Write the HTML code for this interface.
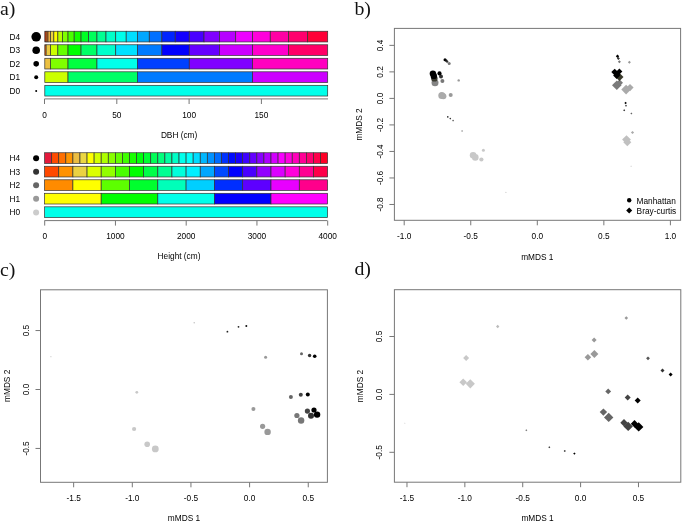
<!DOCTYPE html>
<html><head><meta charset="utf-8"><title>Figure</title>
<style>
html,body{margin:0;padding:0;background:#fff;}
body{width:685px;height:522px;overflow:hidden;}
svg{display:block;}
.pl{font-family:'Liberation Serif','Times New Roman',serif;font-size:19.8px;fill:#111;}
.t8{font-family:'Liberation Sans',Arial,sans-serif;font-size:8.3px;fill:#000;}
.ax{stroke:#777;stroke-width:1;fill:none;}
</style></head>
<body>
<svg width="685" height="522" viewBox="0 0 685 522">
<rect x="0" y="0" width="685" height="522" fill="#fff"/>
<text x="0.1" y="14.6" class="pl">a)</text>
<text x="354.4" y="14.6" class="pl">b)</text>
<text x="0.0" y="275.6" class="pl">c)</text>
<text x="354.4" y="275.4" class="pl">d)</text>
<rect x="44.80" y="31.25" width="1.34" height="10.7" fill="#ff3700" stroke="#333" stroke-width="0.7"/>
<rect x="46.14" y="31.25" width="1.86" height="10.7" fill="#ff6d00" stroke="#333" stroke-width="0.7"/>
<rect x="47.99" y="31.25" width="2.57" height="10.7" fill="#ebae42" stroke="#333" stroke-width="0.7"/>
<rect x="50.56" y="31.25" width="3.29" height="10.7" fill="#ebd242" stroke="#333" stroke-width="0.7"/>
<rect x="53.85" y="31.25" width="4.01" height="10.7" fill="#ffff00" stroke="#333" stroke-width="0.7"/>
<rect x="57.86" y="31.25" width="4.72" height="10.7" fill="#b6ff00" stroke="#333" stroke-width="0.7"/>
<rect x="62.58" y="31.25" width="5.44" height="10.7" fill="#80ff00" stroke="#333" stroke-width="0.7"/>
<rect x="68.02" y="31.25" width="6.16" height="10.7" fill="#49ff00" stroke="#333" stroke-width="0.7"/>
<rect x="74.18" y="31.25" width="6.88" height="10.7" fill="#12ff00" stroke="#333" stroke-width="0.7"/>
<rect x="81.06" y="31.25" width="7.59" height="10.7" fill="#00ff24" stroke="#333" stroke-width="0.7"/>
<rect x="88.65" y="31.25" width="8.31" height="10.7" fill="#00ff5b" stroke="#333" stroke-width="0.7"/>
<rect x="96.96" y="31.25" width="9.03" height="10.7" fill="#00ff92" stroke="#333" stroke-width="0.7"/>
<rect x="105.99" y="31.25" width="9.74" height="10.7" fill="#00ffc8" stroke="#333" stroke-width="0.7"/>
<rect x="115.73" y="31.25" width="10.46" height="10.7" fill="#00ffea" stroke="#333" stroke-width="0.7"/>
<rect x="126.20" y="31.25" width="11.18" height="10.7" fill="#00deff" stroke="#333" stroke-width="0.7"/>
<rect x="137.38" y="31.25" width="11.90" height="10.7" fill="#00a7ff" stroke="#333" stroke-width="0.7"/>
<rect x="149.27" y="31.25" width="12.61" height="10.7" fill="#0070ff" stroke="#333" stroke-width="0.7"/>
<rect x="161.89" y="31.25" width="13.33" height="10.7" fill="#0024ff" stroke="#333" stroke-width="0.7"/>
<rect x="175.22" y="31.25" width="14.05" height="10.7" fill="#1200ff" stroke="#333" stroke-width="0.7"/>
<rect x="189.26" y="31.25" width="14.77" height="10.7" fill="#4900ff" stroke="#333" stroke-width="0.7"/>
<rect x="204.03" y="31.25" width="15.48" height="10.7" fill="#8000ff" stroke="#333" stroke-width="0.7"/>
<rect x="219.51" y="31.25" width="16.20" height="10.7" fill="#b600ff" stroke="#333" stroke-width="0.7"/>
<rect x="235.71" y="31.25" width="16.92" height="10.7" fill="#ed00ff" stroke="#333" stroke-width="0.7"/>
<rect x="252.63" y="31.25" width="17.63" height="10.7" fill="#ff00db" stroke="#333" stroke-width="0.7"/>
<rect x="270.26" y="31.25" width="18.35" height="10.7" fill="#ff00a4" stroke="#333" stroke-width="0.7"/>
<rect x="288.62" y="31.25" width="19.07" height="10.7" fill="#ff006d" stroke="#333" stroke-width="0.7"/>
<rect x="307.68" y="31.25" width="20.02" height="10.7" fill="#ff0037" stroke="#333" stroke-width="0.7"/>
<rect x="44.80" y="44.77" width="1.34" height="10.7" fill="#ff6600" stroke="#333" stroke-width="0.7"/>
<rect x="46.14" y="44.77" width="4.43" height="10.7" fill="#ebc942" stroke="#333" stroke-width="0.7"/>
<rect x="50.56" y="44.77" width="7.30" height="10.7" fill="#ccff00" stroke="#333" stroke-width="0.7"/>
<rect x="57.86" y="44.77" width="10.17" height="10.7" fill="#66ff00" stroke="#333" stroke-width="0.7"/>
<rect x="68.02" y="44.77" width="13.03" height="10.7" fill="#00ff00" stroke="#333" stroke-width="0.7"/>
<rect x="81.06" y="44.77" width="15.90" height="10.7" fill="#00ff66" stroke="#333" stroke-width="0.7"/>
<rect x="96.96" y="44.77" width="18.77" height="10.7" fill="#00ffcc" stroke="#333" stroke-width="0.7"/>
<rect x="115.73" y="44.77" width="21.64" height="10.7" fill="#00e1ff" stroke="#333" stroke-width="0.7"/>
<rect x="137.38" y="44.77" width="24.51" height="10.7" fill="#007bff" stroke="#333" stroke-width="0.7"/>
<rect x="161.89" y="44.77" width="27.38" height="10.7" fill="#0000ff" stroke="#333" stroke-width="0.7"/>
<rect x="189.26" y="44.77" width="30.25" height="10.7" fill="#6600ff" stroke="#333" stroke-width="0.7"/>
<rect x="219.51" y="44.77" width="33.12" height="10.7" fill="#cc00ff" stroke="#333" stroke-width="0.7"/>
<rect x="252.63" y="44.77" width="35.99" height="10.7" fill="#ff00cc" stroke="#333" stroke-width="0.7"/>
<rect x="288.62" y="44.77" width="39.08" height="10.7" fill="#ff0066" stroke="#333" stroke-width="0.7"/>
<rect x="44.80" y="58.29" width="5.76" height="10.7" fill="#ebc042" stroke="#333" stroke-width="0.7"/>
<rect x="50.56" y="58.29" width="17.46" height="10.7" fill="#80ff00" stroke="#333" stroke-width="0.7"/>
<rect x="68.02" y="58.29" width="28.94" height="10.7" fill="#00ff40" stroke="#333" stroke-width="0.7"/>
<rect x="96.96" y="58.29" width="40.41" height="10.7" fill="#00ffea" stroke="#333" stroke-width="0.7"/>
<rect x="137.38" y="58.29" width="51.89" height="10.7" fill="#0040ff" stroke="#333" stroke-width="0.7"/>
<rect x="189.26" y="58.29" width="63.36" height="10.7" fill="#8000ff" stroke="#333" stroke-width="0.7"/>
<rect x="252.63" y="58.29" width="75.07" height="10.7" fill="#ff00bf" stroke="#333" stroke-width="0.7"/>
<rect x="44.80" y="71.81" width="23.22" height="10.7" fill="#ccff00" stroke="#333" stroke-width="0.7"/>
<rect x="68.02" y="71.81" width="69.35" height="10.7" fill="#00ff66" stroke="#333" stroke-width="0.7"/>
<rect x="137.38" y="71.81" width="115.25" height="10.7" fill="#007bff" stroke="#333" stroke-width="0.7"/>
<rect x="252.63" y="71.81" width="75.07" height="10.7" fill="#cc00ff" stroke="#333" stroke-width="0.7"/>
<rect x="44.80" y="85.33" width="282.90" height="10.7" fill="#00ffea" stroke="#333" stroke-width="0.7"/>
<circle cx="36.2" cy="36.80" r="4.8" fill="#000"/>
<text x="9.6" y="39.90" class="t8">D4</text>
<circle cx="36.2" cy="50.32" r="3.8" fill="#000"/>
<text x="9.6" y="53.42" class="t8">D3</text>
<circle cx="36.2" cy="63.84" r="2.8" fill="#000"/>
<text x="9.6" y="66.94" class="t8">D2</text>
<circle cx="36.2" cy="77.36" r="2.0" fill="#000"/>
<text x="9.6" y="80.46" class="t8">D1</text>
<circle cx="36.2" cy="90.88" r="1.0" fill="#000"/>
<text x="9.6" y="93.98" class="t8">D0</text>
<line x1="44.5" y1="98.9" x2="328" y2="98.9" class="ax"/>
<line x1="44.50" y1="98.9" x2="44.50" y2="104" class="ax"/>
<text x="44.50" y="117.6" class="t8" text-anchor="middle">0</text>
<line x1="116.80" y1="98.9" x2="116.80" y2="104" class="ax"/>
<text x="116.80" y="117.6" class="t8" text-anchor="middle">50</text>
<line x1="189.10" y1="98.9" x2="189.10" y2="104" class="ax"/>
<text x="189.10" y="117.6" class="t8" text-anchor="middle">100</text>
<line x1="261.40" y1="98.9" x2="261.40" y2="104" class="ax"/>
<text x="261.40" y="117.6" class="t8" text-anchor="middle">150</text>
<text x="179.1" y="137.6" class="t8" text-anchor="middle">DBH (cm)</text>
<rect x="44.60" y="152.75" width="7.08" height="10.7" fill="#e41a3c" stroke="#333" stroke-width="0.7"/>
<rect x="51.68" y="152.75" width="7.07" height="10.7" fill="#ff4b00" stroke="#333" stroke-width="0.7"/>
<rect x="58.75" y="152.75" width="7.08" height="10.7" fill="#ff7000" stroke="#333" stroke-width="0.7"/>
<rect x="65.83" y="152.75" width="7.08" height="10.7" fill="#ff9500" stroke="#333" stroke-width="0.7"/>
<rect x="72.90" y="152.75" width="7.07" height="10.7" fill="#ebbd42" stroke="#333" stroke-width="0.7"/>
<rect x="79.97" y="152.75" width="7.08" height="10.7" fill="#ebd642" stroke="#333" stroke-width="0.7"/>
<rect x="87.05" y="152.75" width="7.07" height="10.7" fill="#ffff00" stroke="#333" stroke-width="0.7"/>
<rect x="94.12" y="152.75" width="7.08" height="10.7" fill="#d3ff00" stroke="#333" stroke-width="0.7"/>
<rect x="101.20" y="152.75" width="7.08" height="10.7" fill="#aeff00" stroke="#333" stroke-width="0.7"/>
<rect x="108.28" y="152.75" width="7.07" height="10.7" fill="#89ff00" stroke="#333" stroke-width="0.7"/>
<rect x="115.35" y="152.75" width="7.08" height="10.7" fill="#64ff00" stroke="#333" stroke-width="0.7"/>
<rect x="122.43" y="152.75" width="7.07" height="10.7" fill="#3eff00" stroke="#333" stroke-width="0.7"/>
<rect x="129.50" y="152.75" width="7.07" height="10.7" fill="#19ff00" stroke="#333" stroke-width="0.7"/>
<rect x="136.57" y="152.75" width="7.08" height="10.7" fill="#00ff0c" stroke="#333" stroke-width="0.7"/>
<rect x="143.65" y="152.75" width="7.07" height="10.7" fill="#00ff32" stroke="#333" stroke-width="0.7"/>
<rect x="150.72" y="152.75" width="7.08" height="10.7" fill="#00ff57" stroke="#333" stroke-width="0.7"/>
<rect x="157.80" y="152.75" width="7.07" height="10.7" fill="#00ff7c" stroke="#333" stroke-width="0.7"/>
<rect x="164.88" y="152.75" width="7.07" height="10.7" fill="#00ffa2" stroke="#333" stroke-width="0.7"/>
<rect x="171.95" y="152.75" width="7.08" height="10.7" fill="#00ffc7" stroke="#333" stroke-width="0.7"/>
<rect x="179.03" y="152.75" width="7.07" height="10.7" fill="#00ffec" stroke="#333" stroke-width="0.7"/>
<rect x="186.10" y="152.75" width="7.07" height="10.7" fill="#00fffc" stroke="#333" stroke-width="0.7"/>
<rect x="193.17" y="152.75" width="7.08" height="10.7" fill="#00dcff" stroke="#333" stroke-width="0.7"/>
<rect x="200.25" y="152.75" width="7.07" height="10.7" fill="#00b7ff" stroke="#333" stroke-width="0.7"/>
<rect x="207.32" y="152.75" width="7.08" height="10.7" fill="#0092ff" stroke="#333" stroke-width="0.7"/>
<rect x="214.40" y="152.75" width="7.07" height="10.7" fill="#006cff" stroke="#333" stroke-width="0.7"/>
<rect x="221.47" y="152.75" width="7.07" height="10.7" fill="#0032ff" stroke="#333" stroke-width="0.7"/>
<rect x="228.55" y="152.75" width="7.08" height="10.7" fill="#000cff" stroke="#333" stroke-width="0.7"/>
<rect x="235.62" y="152.75" width="7.07" height="10.7" fill="#1900ff" stroke="#333" stroke-width="0.7"/>
<rect x="242.70" y="152.75" width="7.08" height="10.7" fill="#3e00ff" stroke="#333" stroke-width="0.7"/>
<rect x="249.78" y="152.75" width="7.08" height="10.7" fill="#6400ff" stroke="#333" stroke-width="0.7"/>
<rect x="256.85" y="152.75" width="7.07" height="10.7" fill="#8900ff" stroke="#333" stroke-width="0.7"/>
<rect x="263.93" y="152.75" width="7.07" height="10.7" fill="#ae00ff" stroke="#333" stroke-width="0.7"/>
<rect x="271.00" y="152.75" width="7.07" height="10.7" fill="#d300ff" stroke="#333" stroke-width="0.7"/>
<rect x="278.07" y="152.75" width="7.08" height="10.7" fill="#f900ff" stroke="#333" stroke-width="0.7"/>
<rect x="285.15" y="152.75" width="7.07" height="10.7" fill="#ff00e0" stroke="#333" stroke-width="0.7"/>
<rect x="292.23" y="152.75" width="7.07" height="10.7" fill="#ff00bb" stroke="#333" stroke-width="0.7"/>
<rect x="299.30" y="152.75" width="7.07" height="10.7" fill="#ff0095" stroke="#333" stroke-width="0.7"/>
<rect x="306.38" y="152.75" width="7.08" height="10.7" fill="#ff0070" stroke="#333" stroke-width="0.7"/>
<rect x="313.45" y="152.75" width="7.07" height="10.7" fill="#ff004b" stroke="#333" stroke-width="0.7"/>
<rect x="320.53" y="152.75" width="7.07" height="10.7" fill="#ff0025" stroke="#333" stroke-width="0.7"/>
<rect x="44.60" y="166.27" width="14.15" height="10.7" fill="#ff4900" stroke="#333" stroke-width="0.7"/>
<rect x="58.75" y="166.27" width="14.15" height="10.7" fill="#ff9200" stroke="#333" stroke-width="0.7"/>
<rect x="72.90" y="166.27" width="14.15" height="10.7" fill="#ebd242" stroke="#333" stroke-width="0.7"/>
<rect x="87.05" y="166.27" width="14.15" height="10.7" fill="#dbff00" stroke="#333" stroke-width="0.7"/>
<rect x="101.20" y="166.27" width="14.15" height="10.7" fill="#92ff00" stroke="#333" stroke-width="0.7"/>
<rect x="115.35" y="166.27" width="14.15" height="10.7" fill="#49ff00" stroke="#333" stroke-width="0.7"/>
<rect x="129.50" y="166.27" width="14.15" height="10.7" fill="#00ff00" stroke="#333" stroke-width="0.7"/>
<rect x="143.65" y="166.27" width="14.15" height="10.7" fill="#00ff49" stroke="#333" stroke-width="0.7"/>
<rect x="157.80" y="166.27" width="14.15" height="10.7" fill="#00ff92" stroke="#333" stroke-width="0.7"/>
<rect x="171.95" y="166.27" width="14.15" height="10.7" fill="#00ffdb" stroke="#333" stroke-width="0.7"/>
<rect x="186.10" y="166.27" width="14.15" height="10.7" fill="#00f0ff" stroke="#333" stroke-width="0.7"/>
<rect x="200.25" y="166.27" width="14.15" height="10.7" fill="#00a7ff" stroke="#333" stroke-width="0.7"/>
<rect x="214.40" y="166.27" width="14.15" height="10.7" fill="#0049ff" stroke="#333" stroke-width="0.7"/>
<rect x="228.55" y="166.27" width="14.15" height="10.7" fill="#0000ff" stroke="#333" stroke-width="0.7"/>
<rect x="242.70" y="166.27" width="14.15" height="10.7" fill="#4900ff" stroke="#333" stroke-width="0.7"/>
<rect x="256.85" y="166.27" width="14.15" height="10.7" fill="#9200ff" stroke="#333" stroke-width="0.7"/>
<rect x="271.00" y="166.27" width="14.15" height="10.7" fill="#db00ff" stroke="#333" stroke-width="0.7"/>
<rect x="285.15" y="166.27" width="14.15" height="10.7" fill="#ff00db" stroke="#333" stroke-width="0.7"/>
<rect x="299.30" y="166.27" width="14.15" height="10.7" fill="#ff0092" stroke="#333" stroke-width="0.7"/>
<rect x="313.45" y="166.27" width="14.15" height="10.7" fill="#ff0049" stroke="#333" stroke-width="0.7"/>
<rect x="44.60" y="179.79" width="28.30" height="10.7" fill="#ff8b00" stroke="#333" stroke-width="0.7"/>
<rect x="72.90" y="179.79" width="28.30" height="10.7" fill="#ffff00" stroke="#333" stroke-width="0.7"/>
<rect x="101.20" y="179.79" width="28.30" height="10.7" fill="#5dff00" stroke="#333" stroke-width="0.7"/>
<rect x="129.50" y="179.79" width="28.30" height="10.7" fill="#00ff2e" stroke="#333" stroke-width="0.7"/>
<rect x="157.80" y="179.79" width="28.30" height="10.7" fill="#00ffb9" stroke="#333" stroke-width="0.7"/>
<rect x="186.10" y="179.79" width="28.30" height="10.7" fill="#00cfff" stroke="#333" stroke-width="0.7"/>
<rect x="214.40" y="179.79" width="28.30" height="10.7" fill="#002eff" stroke="#333" stroke-width="0.7"/>
<rect x="242.70" y="179.79" width="28.30" height="10.7" fill="#5d00ff" stroke="#333" stroke-width="0.7"/>
<rect x="271.00" y="179.79" width="28.30" height="10.7" fill="#e800ff" stroke="#333" stroke-width="0.7"/>
<rect x="299.30" y="179.79" width="28.30" height="10.7" fill="#ff008b" stroke="#333" stroke-width="0.7"/>
<rect x="44.60" y="193.31" width="56.60" height="10.7" fill="#ffff00" stroke="#333" stroke-width="0.7"/>
<rect x="101.20" y="193.31" width="56.60" height="10.7" fill="#00ff00" stroke="#333" stroke-width="0.7"/>
<rect x="157.80" y="193.31" width="56.60" height="10.7" fill="#00ffea" stroke="#333" stroke-width="0.7"/>
<rect x="214.40" y="193.31" width="56.60" height="10.7" fill="#0000ff" stroke="#333" stroke-width="0.7"/>
<rect x="271.00" y="193.31" width="56.60" height="10.7" fill="#ff00ff" stroke="#333" stroke-width="0.7"/>
<rect x="44.60" y="206.83" width="283.00" height="10.7" fill="#00ffea" stroke="#333" stroke-width="0.7"/>
<circle cx="36.1" cy="158.30" r="3" fill="#000"/>
<text x="9.6" y="161.40" class="t8">H4</text>
<circle cx="36.1" cy="171.82" r="3" fill="#333"/>
<text x="9.6" y="174.92" class="t8">H3</text>
<circle cx="36.1" cy="185.34" r="3" fill="#666"/>
<text x="9.6" y="188.44" class="t8">H2</text>
<circle cx="36.1" cy="198.86" r="3" fill="#999"/>
<text x="9.6" y="201.96" class="t8">H1</text>
<circle cx="36.1" cy="212.38" r="3" fill="#ccc"/>
<text x="9.6" y="215.48" class="t8">H0</text>
<line x1="44.5" y1="220.6" x2="327.3" y2="220.6" class="ax"/>
<line x1="44.70" y1="220.6" x2="44.70" y2="225.6" class="ax"/>
<text x="44.70" y="239.1" class="t8" text-anchor="middle">0</text>
<line x1="115.45" y1="220.6" x2="115.45" y2="225.6" class="ax"/>
<text x="115.45" y="239.1" class="t8" text-anchor="middle">1000</text>
<line x1="186.20" y1="220.6" x2="186.20" y2="225.6" class="ax"/>
<text x="186.20" y="239.1" class="t8" text-anchor="middle">2000</text>
<line x1="256.95" y1="220.6" x2="256.95" y2="225.6" class="ax"/>
<text x="256.95" y="239.1" class="t8" text-anchor="middle">3000</text>
<line x1="327.70" y1="220.6" x2="327.70" y2="225.6" class="ax"/>
<text x="327.70" y="239.1" class="t8" text-anchor="middle">4000</text>
<text x="179" y="258.9" class="t8" text-anchor="middle">Height (cm)</text>
<rect x="394.4" y="28.4" width="286.20000000000005" height="191.9" fill="none" class="ax"/>
<line x1="389.4" y1="45.36" x2="394.4" y2="45.36" class="ax"/>
<text transform="translate(382.6,45.36) rotate(-90)" class="t8" text-anchor="middle">0.4</text>
<line x1="389.4" y1="71.88" x2="394.4" y2="71.88" class="ax"/>
<text transform="translate(382.6,71.88) rotate(-90)" class="t8" text-anchor="middle">0.2</text>
<line x1="389.4" y1="98.40" x2="394.4" y2="98.40" class="ax"/>
<text transform="translate(382.6,98.40) rotate(-90)" class="t8" text-anchor="middle">0.0</text>
<line x1="389.4" y1="124.92" x2="394.4" y2="124.92" class="ax"/>
<text transform="translate(382.6,124.92) rotate(-90)" class="t8" text-anchor="middle">-0.2</text>
<line x1="389.4" y1="151.44" x2="394.4" y2="151.44" class="ax"/>
<text transform="translate(382.6,151.44) rotate(-90)" class="t8" text-anchor="middle">-0.4</text>
<line x1="389.4" y1="177.96" x2="394.4" y2="177.96" class="ax"/>
<text transform="translate(382.6,177.96) rotate(-90)" class="t8" text-anchor="middle">-0.6</text>
<line x1="389.4" y1="204.48" x2="394.4" y2="204.48" class="ax"/>
<text transform="translate(382.6,204.48) rotate(-90)" class="t8" text-anchor="middle">-0.8</text>
<line x1="404.20" y1="220.3" x2="404.20" y2="225.3" class="ax"/>
<text x="404.20" y="239.0" class="t8" text-anchor="middle">-1.0</text>
<line x1="470.75" y1="220.3" x2="470.75" y2="225.3" class="ax"/>
<text x="470.75" y="239.0" class="t8" text-anchor="middle">-0.5</text>
<line x1="537.30" y1="220.3" x2="537.30" y2="225.3" class="ax"/>
<text x="537.30" y="239.0" class="t8" text-anchor="middle">0.0</text>
<line x1="603.85" y1="220.3" x2="603.85" y2="225.3" class="ax"/>
<text x="603.85" y="239.0" class="t8" text-anchor="middle">0.5</text>
<line x1="670.40" y1="220.3" x2="670.40" y2="225.3" class="ax"/>
<text x="670.40" y="239.0" class="t8" text-anchor="middle">1.0</text>
<text x="537.3" y="259.5" class="t8" text-anchor="middle">mMDS 1</text>
<text transform="translate(362.4,124.4) rotate(-90)" class="t8" text-anchor="middle">mMDS 2</text>
<circle cx="629.2" cy="200.3" r="2.2" fill="#000"/>
<path d="M629.2 207.4L632.2 210.4L629.2 213.4L626.2 210.4Z" fill="#000"/>
<text x="636.6" y="203.7" class="t8">Manhattan</text>
<text x="636.6" y="213.8" class="t8">Bray-curtis</text>
<circle cx="445.0" cy="59.7" r="1.5" fill="#000"/>
<circle cx="446.3" cy="60.7" r="1.2" fill="#111"/>
<circle cx="447.1" cy="61.6" r="1.2" fill="#333"/>
<circle cx="449.2" cy="63.4" r="1.5" fill="#777"/>
<circle cx="435.0" cy="82.8" r="3.5" fill="#858585"/>
<circle cx="434.4" cy="78.4" r="3.2" fill="#3a3a30"/>
<circle cx="433.8" cy="75.9" r="3.2" fill="#000"/>
<circle cx="432.9" cy="73.6" r="3.2" fill="#000"/>
<circle cx="442.4" cy="81.0" r="2.0" fill="#777"/>
<circle cx="441.0" cy="76.5" r="2.0" fill="#333"/>
<circle cx="439.5" cy="73.4" r="2.1" fill="#000"/>
<circle cx="458.7" cy="80.4" r="1.2" fill="#999"/>
<circle cx="441.8" cy="95.4" r="3.5" fill="#aaa"/>
<circle cx="443.4" cy="96.3" r="3.0" fill="#aaa"/>
<circle cx="450.7" cy="94.9" r="2.0" fill="#999"/>
<circle cx="447.8" cy="116.9" r="0.8" fill="#222"/>
<circle cx="450.3" cy="118.6" r="0.8" fill="#333"/>
<circle cx="453.1" cy="120.6" r="0.8" fill="#555"/>
<circle cx="462.1" cy="131.0" r="0.8" fill="#888"/>
<circle cx="473.1" cy="155.2" r="3.3" fill="#c8c8c8"/>
<circle cx="475.3" cy="157.4" r="3.3" fill="#c8c8c8"/>
<circle cx="481.4" cy="159.5" r="2.1" fill="#c8c8c8"/>
<circle cx="483.4" cy="150.3" r="1.5" fill="#c8c8c8"/>
<circle cx="505.9" cy="192.4" r="0.6" fill="#ccc"/>
<path d="M617.5 54.5L619.2 56.2L617.5 57.900000000000006L615.8 56.2Z" fill="#000"/>
<path d="M618.4 57.1L619.9 58.6L618.4 60.1L616.9 58.6Z" fill="#333"/>
<path d="M619.4 60.2L620.9 61.7L619.4 63.2L617.9 61.7Z" fill="#777"/>
<path d="M629.4 60.8L630.9 62.3L629.4 63.8L627.9 62.3Z" fill="#999"/>
<path d="M626.1 84.8L630.9 89.6L626.1 94.39999999999999L621.3000000000001 89.6Z" fill="#aaa"/>
<path d="M630.0 84.0L633.6 87.6L630.0 91.19999999999999L626.4 87.6Z" fill="#aaa"/>
<path d="M616.8 80.5L621.5999999999999 85.3L616.8 90.1L612.0 85.3Z" fill="#7a7a7a"/>
<path d="M619.6 79.39999999999999L623.0 82.8L619.6 86.2L616.2 82.8Z" fill="#7a7a7a"/>
<path d="M619.5 73.0L623.5 77.0L619.5 81.0L615.5 77.0Z" fill="#38382a"/>
<path d="M616.6 71.9L620.1 75.4L616.6 78.9L613.1 75.4Z" fill="#000"/>
<path d="M614.7 68.69999999999999L618.1 72.1L614.7 75.5L611.3000000000001 72.1Z" fill="#000"/>
<path d="M619.4 68.6L622.4 71.6L619.4 74.6L616.4 71.6Z" fill="#000"/>
<path d="M617.2 71.2L620.2 74.2L617.2 77.2L614.2 74.2Z" fill="#000"/>
<path d="M625.6 101.8L626.8000000000001 103.0L625.6 104.2L624.4 103.0Z" fill="#000"/>
<path d="M626.0 104.7L627.0 105.7L626.0 106.7L625.0 105.7Z" fill="#333"/>
<path d="M624.2 109.3L625.2 110.3L624.2 111.3L623.2 110.3Z" fill="#222"/>
<path d="M631.4 112.4L632.4 113.4L631.4 114.4L630.4 113.4Z" fill="#666"/>
<path d="M632.5 130.9L634.1 132.5L632.5 134.1L630.9 132.5Z" fill="#aaa"/>
<path d="M626.5 135.2L630.9 139.6L626.5 144.0L622.1 139.6Z" fill="#c0c0c0"/>
<path d="M627.3 138.3L631.3 142.3L627.3 146.3L623.3 142.3Z" fill="#c0c0c0"/>
<path d="M631.1 165.60000000000002L631.8000000000001 166.3L631.1 167.0L630.4 166.3Z" fill="#ccc"/>
<rect x="40.5" y="289.8" width="286.9" height="192.5" fill="none" class="ax"/>
<line x1="35.5" y1="330.55" x2="40.5" y2="330.55" class="ax"/>
<text transform="translate(28.6,330.55) rotate(-90)" class="t8" text-anchor="middle">0.5</text>
<line x1="35.5" y1="389.50" x2="40.5" y2="389.50" class="ax"/>
<text transform="translate(28.6,389.50) rotate(-90)" class="t8" text-anchor="middle">0.0</text>
<line x1="35.5" y1="448.45" x2="40.5" y2="448.45" class="ax"/>
<text transform="translate(28.6,448.45) rotate(-90)" class="t8" text-anchor="middle">-0.5</text>
<line x1="73.65" y1="482.3" x2="73.65" y2="487.3" class="ax"/>
<text x="73.65" y="500.8" class="t8" text-anchor="middle">-1.5</text>
<line x1="132.30" y1="482.3" x2="132.30" y2="487.3" class="ax"/>
<text x="132.30" y="500.8" class="t8" text-anchor="middle">-1.0</text>
<line x1="190.95" y1="482.3" x2="190.95" y2="487.3" class="ax"/>
<text x="190.95" y="500.8" class="t8" text-anchor="middle">-0.5</text>
<line x1="249.60" y1="482.3" x2="249.60" y2="487.3" class="ax"/>
<text x="249.60" y="500.8" class="t8" text-anchor="middle">0.0</text>
<line x1="308.25" y1="482.3" x2="308.25" y2="487.3" class="ax"/>
<text x="308.25" y="500.8" class="t8" text-anchor="middle">0.5</text>
<text x="184" y="520.9" class="t8" text-anchor="middle">mMDS 1</text>
<text transform="translate(9.6,385.8) rotate(-90)" class="t8" text-anchor="middle">mMDS 2</text>
<circle cx="50.9" cy="356.7" r="0.6" fill="#ccc"/>
<circle cx="194.2" cy="322.7" r="0.7" fill="#bbb"/>
<circle cx="227.4" cy="331.7" r="0.9" fill="#222"/>
<circle cx="238.5" cy="326.8" r="0.9" fill="#222"/>
<circle cx="246.3" cy="325.9" r="1.0" fill="#111"/>
<circle cx="265.6" cy="357.3" r="1.5" fill="#999"/>
<circle cx="301.5" cy="353.8" r="1.5" fill="#666"/>
<circle cx="309.6" cy="355.5" r="1.7" fill="#333"/>
<circle cx="314.7" cy="356.2" r="1.8" fill="#000"/>
<circle cx="136.8" cy="392.3" r="1.4" fill="#c8c8c8"/>
<circle cx="134.1" cy="429.0" r="2.1" fill="#c8c8c8"/>
<circle cx="147.2" cy="444.3" r="2.8" fill="#c8c8c8"/>
<circle cx="155.3" cy="448.9" r="3.4" fill="#c8c8c8"/>
<circle cx="253.4" cy="408.9" r="2.0" fill="#999"/>
<circle cx="262.6" cy="426.3" r="2.6" fill="#999"/>
<circle cx="267.6" cy="431.9" r="3.2" fill="#999"/>
<circle cx="290.9" cy="397.1" r="2.0" fill="#666"/>
<circle cx="300.8" cy="394.7" r="2.0" fill="#444"/>
<circle cx="307.8" cy="394.5" r="2.0" fill="#000"/>
<circle cx="296.9" cy="415.5" r="2.6" fill="#777"/>
<circle cx="301.1" cy="420.5" r="3.2" fill="#777"/>
<circle cx="307.4" cy="411.1" r="2.6" fill="#444"/>
<circle cx="311.0" cy="415.7" r="3.0" fill="#333"/>
<circle cx="314.0" cy="410.0" r="2.6" fill="#000"/>
<circle cx="317.1" cy="414.6" r="3.2" fill="#000"/>
<rect x="394.4" y="289.7" width="286.4" height="192.5" fill="none" class="ax"/>
<line x1="389.4" y1="336.50" x2="394.4" y2="336.50" class="ax"/>
<text transform="translate(382.4,336.50) rotate(-90)" class="t8" text-anchor="middle">0.5</text>
<line x1="389.4" y1="394.40" x2="394.4" y2="394.40" class="ax"/>
<text transform="translate(382.4,394.40) rotate(-90)" class="t8" text-anchor="middle">0.0</text>
<line x1="389.4" y1="452.30" x2="394.4" y2="452.30" class="ax"/>
<text transform="translate(382.4,452.30) rotate(-90)" class="t8" text-anchor="middle">-0.5</text>
<line x1="406.98" y1="482.2" x2="406.98" y2="487.2" class="ax"/>
<text x="406.98" y="500.8" class="t8" text-anchor="middle">-1.5</text>
<line x1="464.85" y1="482.2" x2="464.85" y2="487.2" class="ax"/>
<text x="464.85" y="500.8" class="t8" text-anchor="middle">-1.0</text>
<line x1="522.73" y1="482.2" x2="522.73" y2="487.2" class="ax"/>
<text x="522.73" y="500.8" class="t8" text-anchor="middle">-0.5</text>
<line x1="580.60" y1="482.2" x2="580.60" y2="487.2" class="ax"/>
<text x="580.60" y="500.8" class="t8" text-anchor="middle">0.0</text>
<line x1="638.48" y1="482.2" x2="638.48" y2="487.2" class="ax"/>
<text x="638.48" y="500.8" class="t8" text-anchor="middle">0.5</text>
<text x="537.6" y="520.9" class="t8" text-anchor="middle">mMDS 1</text>
<text transform="translate(362.7,386) rotate(-90)" class="t8" text-anchor="middle">mMDS 2</text>
<path d="M404.8 422.4L405.6 423.2L404.8 424.0L404.0 423.2Z" fill="#ddd"/>
<path d="M526.3 429.2L527.3 430.2L526.3 431.2L525.3 430.2Z" fill="#777"/>
<path d="M549.3 446.2L550.3 447.2L549.3 448.2L548.3 447.2Z" fill="#333"/>
<path d="M564.8 449.9L565.9 451.0L564.8 452.1L563.6999999999999 451.0Z" fill="#222"/>
<path d="M574.4 452.40000000000003L575.6 453.6L574.4 454.8L573.1999999999999 453.6Z" fill="#000"/>
<path d="M497.7 324.8L499.4 326.5L497.7 328.2L496.0 326.5Z" fill="#bbb"/>
<path d="M466.1 355.1L469.1 358.1L466.1 361.1L463.1 358.1Z" fill="#c8c8c8"/>
<path d="M463.2 378.5L467.0 382.3L463.2 386.1L459.4 382.3Z" fill="#c8c8c8"/>
<path d="M470.3 379.2L474.90000000000003 383.8L470.3 388.40000000000003L465.7 383.8Z" fill="#c8c8c8"/>
<path d="M626.3 316.2L628.0999999999999 318.0L626.3 319.8L624.5 318.0Z" fill="#999"/>
<path d="M594.1 337.5L596.6 340.0L594.1 342.5L591.6 340.0Z" fill="#999"/>
<path d="M587.9 353.9L591.1999999999999 357.2L587.9 360.5L584.6 357.2Z" fill="#999"/>
<path d="M594.4 350.0L598.4 354.0L594.4 358.0L590.4 354.0Z" fill="#999"/>
<path d="M648.0 356.40000000000003L649.9 358.3L648.0 360.2L646.1 358.3Z" fill="#555"/>
<path d="M662.5 368.6L664.5 370.6L662.5 372.6L660.5 370.6Z" fill="#333"/>
<path d="M670.6 372.6L672.6 374.6L670.6 376.6L668.6 374.6Z" fill="#000"/>
<path d="M608.2 388.5L611.1 391.4L608.2 394.29999999999995L605.3000000000001 391.4Z" fill="#666"/>
<path d="M627.7 394.4L630.7 397.4L627.7 400.4L624.7 397.4Z" fill="#444"/>
<path d="M637.7 397.5L640.7 400.5L637.7 403.5L634.7 400.5Z" fill="#000"/>
<path d="M603.4 408.40000000000003L607.1 412.1L603.4 415.8L599.6999999999999 412.1Z" fill="#666"/>
<path d="M608.7 412.7L613.4000000000001 417.4L608.7 422.09999999999997L604.0 417.4Z" fill="#666"/>
<path d="M624.0 419.0L627.7 422.7L624.0 426.4L620.3 422.7Z" fill="#444"/>
<path d="M628.2 421.7L632.9000000000001 426.4L628.2 431.09999999999997L623.5 426.4Z" fill="#444"/>
<path d="M634.5 420.0L638.2 423.7L634.5 427.4L630.8 423.7Z" fill="#000"/>
<path d="M638.7 422.2L643.4000000000001 426.9L638.7 431.59999999999997L634.0 426.9Z" fill="#000"/>
</svg>
</body></html>
